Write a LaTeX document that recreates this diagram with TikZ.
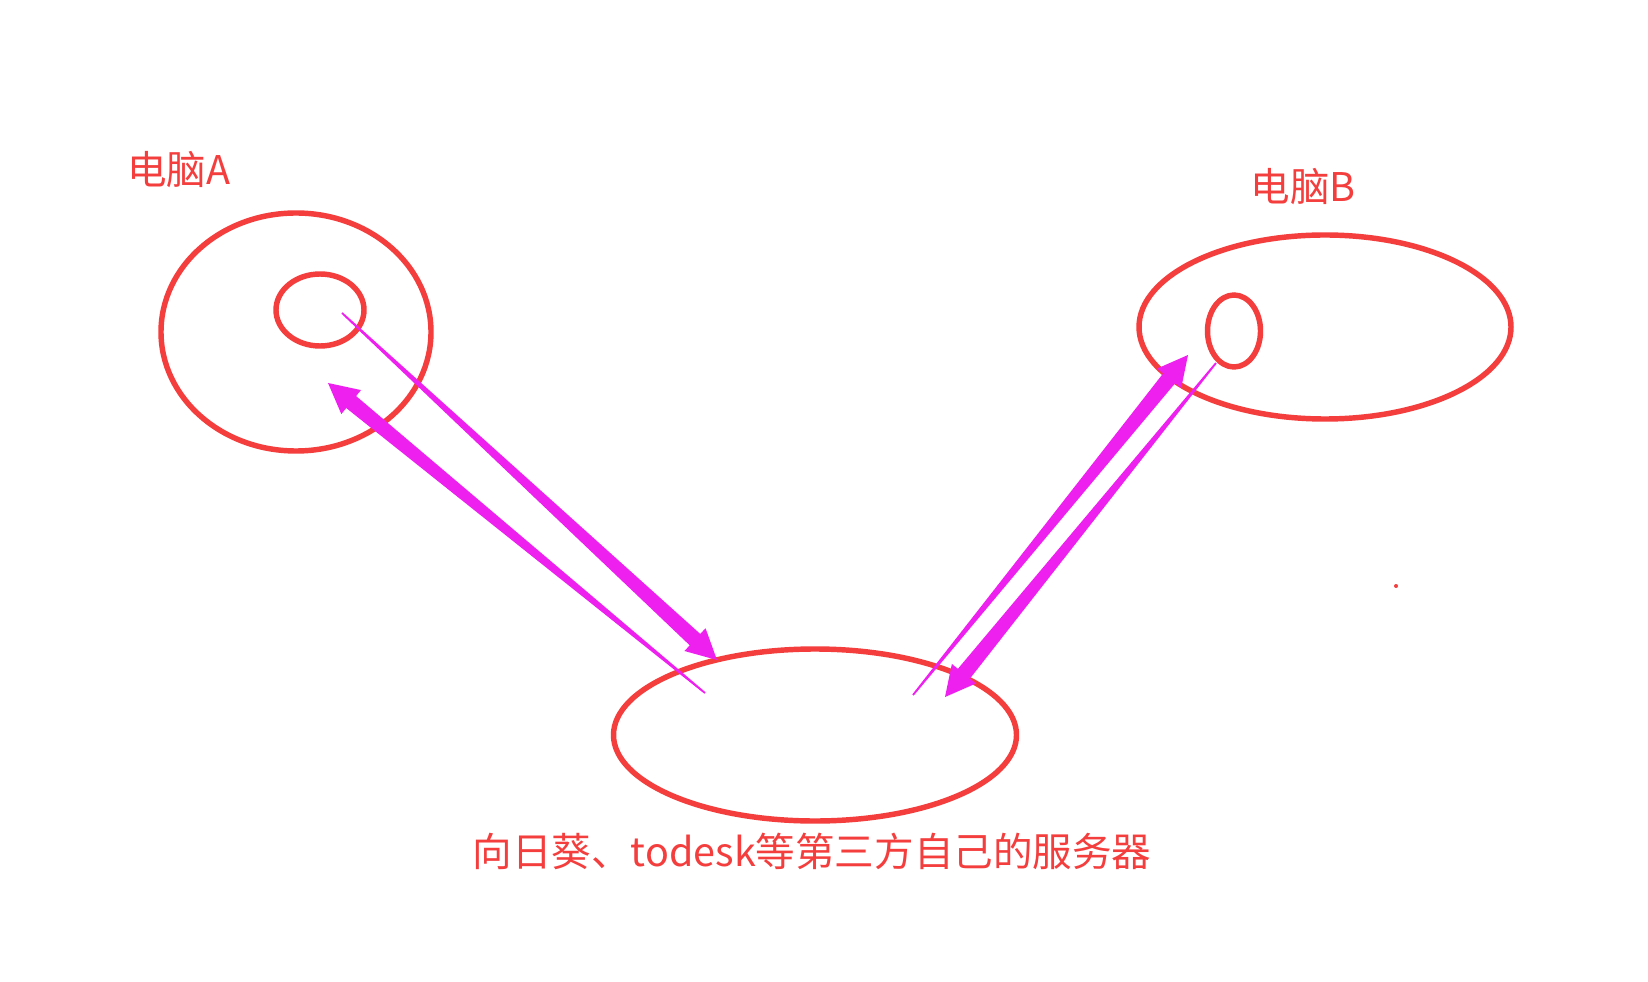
\documentclass[tikz,border=0pt]{standalone}
\usepackage{fontspec}
\newfontfamily\cjk{Noto Sans CJK SC}
\usetikzlibrary{calc,shapes.geometric}

\definecolor{penred}{RGB}{244,62,62}
\definecolor{penpink}{RGB}{238,32,240}

\tikzset{
  ring/.style={ellipse, draw=penred, line width=3.1pt, inner sep=0pt},
  label/.style={text=penred, font=\cjk\fontsize{22.5pt}{26pt}\selectfont, inner sep=0pt}
}

% tapered pen stroke with a head at its end
\newcommand{\taperarrow}[2]{%
  \path ($(#2)!0.6cm!(#1)$) coordinate (hb);
  \fill[penpink] ($(#1)!0.018cm!90:(#2)$) -- ($(hb)!0.155cm!-90:(#1)$)
    -- ($(hb)!0.31cm!-90:(#1)$) -- (#2) -- ($(hb)!0.31cm!90:(#1)$)
    -- ($(hb)!0.155cm!90:(#1)$) -- ($(#1)!0.018cm!-90:(#2)$) -- cycle;}

\begin{document}
\begin{tikzpicture}[x=0.02cm, y=-0.02cm]
        \useasboundingbox (0,0) rectangle (1648,982);
        \fill[white] (0,0) rectangle (1648,982);

        % computer A
        \node[ring, minimum width=0.02cm*270, minimum height=0.02cm*238] (pcA) at (296,332) {};
        \node[ring, minimum width=0.02cm*88, minimum height=0.02cm*72] (pcAin) at (320,310) {};
        \node[label] (labA) at (179,170) {电脑A};

        % computer B
        \node[ring, minimum width=0.02cm*372, minimum height=0.02cm*184] (pcB) at (1325,327) {};
        \node[ring, minimum width=0.02cm*53, minimum height=0.02cm*72] (pcBin) at (1234,331) {};
        \node[label] (labB) at (1303,187) {电脑B};

        % server in the middle
        \node[ring, minimum width=0.02cm*403, minimum height=0.02cm*172] (server) at (815,735) {};
        \node[label] (labS) at (812,851) {向日葵、todesk等第三方自己的服务器};

        \fill[penred] (1396,586) circle (2);

        \coordinate (a1s) at (342,313);
        \coordinate (a1e) at (717,660);
        \coordinate (a2s) at (705,693);
        \coordinate (a2e) at (328,383);
        \coordinate (a3s) at (913,695);
        \coordinate (a3e) at (1188,355);
        \coordinate (a4s) at (1216,363);
        \coordinate (a4e) at (945,697);

        \taperarrow{a1s}{a1e}
        \taperarrow{a2s}{a2e}
        \taperarrow{a3s}{a3e}
        \taperarrow{a4s}{a4e}
    \end{tikzpicture}
\end{document}
